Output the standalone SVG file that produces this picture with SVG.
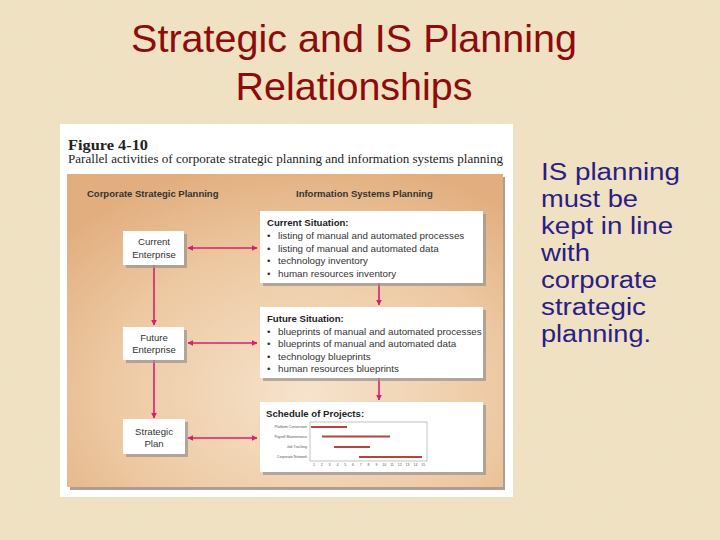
<svg xmlns="http://www.w3.org/2000/svg" width="720" height="540" viewBox="0 0 720 540">
<defs>
<style>
.title{font-family:"Liberation Sans",Arial,sans-serif;font-size:39.5px;fill:#8E0B0B;text-anchor:middle}
.side{font-family:"Liberation Sans",Arial,sans-serif;font-size:23px;fill:#2B1C86}
.fig{font-family:"Liberation Serif","Times New Roman",serif;fill:#222}
.hdr{font-family:"Liberation Sans",Arial,sans-serif;font-size:9.5px;font-weight:bold;fill:#333}
.box{fill:#fff}
.shadow{fill:#9d9592;opacity:0.75}
.lbl{font-family:"Liberation Sans",Arial,sans-serif;font-size:9.6px;fill:#333;text-anchor:middle}
.bt{font-family:"Liberation Sans",Arial,sans-serif;font-size:9.6px;font-weight:bold;fill:#222}
.bl{font-family:"Liberation Sans",Arial,sans-serif;font-size:9.8px;fill:#333}
.con{stroke:#D81F6E;stroke-width:1.6;fill:none}
.tiny{font-family:"Liberation Sans",Arial,sans-serif;font-size:3.6px;fill:#555}
.bar{stroke:#B8433E;stroke-width:1.8}
</style>
<marker id="ah" viewBox="0 0 10 10" refX="9" refY="5" markerWidth="6" markerHeight="6" orient="auto-start-reverse" markerUnits="userSpaceOnUse">
<path d="M0,0 L10,5 L0,10 Z" fill="#D81F6E"/>
</marker>
<radialGradient id="tan" cx="0.55" cy="0.7" r="0.75">
<stop offset="0" stop-color="#F6E3CC"/>
<stop offset="0.6" stop-color="#EDC9A2"/>
<stop offset="1" stop-color="#E2AE7F"/>
</radialGradient>
<filter id="tex" x="0" y="0" width="1" height="1">
<feTurbulence type="fractalNoise" baseFrequency="0.06" numOctaves="3" seed="4" result="n"/>
<feColorMatrix in="n" type="matrix" values="0 0 0 0 0.86  0 0 0 0 0.76  0 0 0 0 0.55  0 0 0 -1.2 0.75" result="c"/>
<feComposite in="c" in2="SourceGraphic" operator="in"/>
</filter>
</defs>

<rect x="0" y="0" width="720" height="540" fill="#EFE1C2"/>
<rect x="0" y="0" width="720" height="540" fill="#EFE1C2" filter="url(#tex)" opacity="0.8"/>

<text class="title" x="354" y="52">Strategic and IS Planning</text>
<text class="title" x="354" y="100">Relationships</text>

<g id="side-text">
<text class="side" x="541" y="180" textLength="139" lengthAdjust="spacingAndGlyphs">IS planning</text>
<text class="side" x="541" y="207" textLength="97" lengthAdjust="spacingAndGlyphs">must be</text>
<text class="side" x="541" y="234" textLength="132" lengthAdjust="spacingAndGlyphs">kept in line</text>
<text class="side" x="541" y="261" textLength="49" lengthAdjust="spacingAndGlyphs">with</text>
<text class="side" x="541" y="288" textLength="116" lengthAdjust="spacingAndGlyphs">corporate</text>
<text class="side" x="541" y="315" textLength="105" lengthAdjust="spacingAndGlyphs">strategic</text>
<text class="side" x="541" y="342" textLength="110" lengthAdjust="spacingAndGlyphs">planning.</text>
</g>

<g id="figure">
<rect x="60" y="124" width="453" height="373" fill="#fff"/>
<text class="fig" x="68" y="150" font-size="15" font-weight="bold" textLength="80" lengthAdjust="spacingAndGlyphs">Figure 4-10</text>
<text class="fig" x="68" y="163" font-size="12.5" textLength="435" lengthAdjust="spacingAndGlyphs">Parallel activities of corporate strategic planning and information systems planning</text>
<rect x="70" y="177" width="435" height="313" fill="#a89f98"/>
<rect x="67" y="174" width="436" height="313" fill="url(#tan)"/>
<text class="hdr" x="87" y="197">Corporate Strategic Planning</text>
<text class="hdr" x="296" y="197">Information Systems Planning</text>
</g>

<g id="connectors">
<line class="con" x1="188" y1="248" x2="257" y2="248" marker-start="url(#ah)" marker-end="url(#ah)"/>
<line class="con" x1="188" y1="343" x2="257" y2="343" marker-start="url(#ah)" marker-end="url(#ah)"/>
<line class="con" x1="188" y1="438" x2="257" y2="438" marker-start="url(#ah)" marker-end="url(#ah)"/>
<line class="con" x1="154" y1="265" x2="154" y2="325" marker-end="url(#ah)"/>
<line class="con" x1="154" y1="360" x2="154" y2="418" marker-end="url(#ah)"/>
<line class="con" x1="379" y1="283" x2="379" y2="305" marker-end="url(#ah)"/>
<line class="con" x1="379" y1="378" x2="379" y2="400" marker-end="url(#ah)"/>
</g>

<g id="current-enterprise">
<rect class="shadow" x="126" y="234" width="61" height="34"/>
<rect class="box" x="123" y="231" width="61" height="34"/>
<text class="lbl" x="154" y="245">Current</text>
<text class="lbl" x="154" y="257.5">Enterprise</text>
</g>

<g id="future-enterprise">
<rect class="shadow" x="126" y="330" width="61" height="33"/>
<rect class="box" x="123" y="327" width="61" height="33"/>
<text class="lbl" x="154" y="340.5">Future</text>
<text class="lbl" x="154" y="352.5">Enterprise</text>
</g>

<g id="strategic-plan">
<rect class="shadow" x="126" y="422" width="62" height="35"/>
<rect class="box" x="123" y="419" width="62" height="35"/>
<text class="lbl" x="154" y="434.5" font-size="10.4">Strategic</text>
<text class="lbl" x="154" y="446.5" font-size="10.4">Plan</text>
</g>

<g id="current-situation">
<rect class="shadow" x="263" y="214" width="223" height="72"/>
<rect class="box" x="260" y="211" width="223" height="72"/>
<text class="bt" x="267" y="226">Current Situation:</text>
<g class="bl">
<text x="267" y="239">•</text><text x="278" y="239">listing of manual and automated processes</text>
<text x="267" y="251.5">•</text><text x="278" y="251.5">listing of manual and automated data</text>
<text x="267" y="264">•</text><text x="278" y="264">technology inventory</text>
<text x="267" y="276.5">•</text><text x="278" y="276.5">human resources inventory</text>
</g>
</g>

<g id="future-situation">
<rect class="shadow" x="263" y="310" width="223" height="71"/>
<rect class="box" x="260" y="307" width="223" height="71"/>
<text class="bt" x="267" y="321.5">Future Situation:</text>
<g class="bl">
<text x="267" y="334.5">•</text><text x="278" y="334.5">blueprints of manual and automated processes</text>
<text x="267" y="347">•</text><text x="278" y="347">blueprints of manual and automated data</text>
<text x="267" y="359.5">•</text><text x="278" y="359.5">technology blueprints</text>
<text x="267" y="372">•</text><text x="278" y="372">human resources blueprints</text>
</g>
</g>

<g id="schedule">
<rect class="shadow" x="263" y="405" width="223" height="70"/>
<rect class="box" x="260" y="402" width="223" height="70"/>
<text class="bt" x="266" y="416.5" font-size="11">Schedule of Projects:</text>
<rect x="310" y="422" width="117" height="39" fill="none" stroke="#999" stroke-width="0.6"/>
<line class="bar" x1="311" y1="427" x2="347" y2="427"/>
<line class="bar" x1="322" y1="436.5" x2="390" y2="436.5"/>
<line class="bar" x1="334" y1="447" x2="370" y2="447"/>
<line class="bar" x1="359" y1="457" x2="422" y2="457" stroke-width="2.2"/>
<g class="tiny" text-anchor="end">
<text x="307" y="428">Platform Conversion</text>
<text x="307" y="437.5">Payroll Maintenance</text>
<text x="307" y="448">Job Tracking</text>
<text x="307" y="458">Corporate Network</text>
</g>
<g class="tiny" text-anchor="middle">
<text x="314" y="466">1</text><text x="321.8" y="466">2</text><text x="329.6" y="466">3</text><text x="337.4" y="466">4</text><text x="345.2" y="466">5</text><text x="353" y="466">6</text><text x="360.8" y="466">7</text><text x="368.6" y="466">8</text><text x="376.4" y="466">9</text><text x="384.2" y="466">10</text><text x="392" y="466">11</text><text x="399.8" y="466">12</text><text x="407.6" y="466">13</text><text x="415.4" y="466">14</text><text x="423.2" y="466">15</text>
</g>
</g>
</svg>
